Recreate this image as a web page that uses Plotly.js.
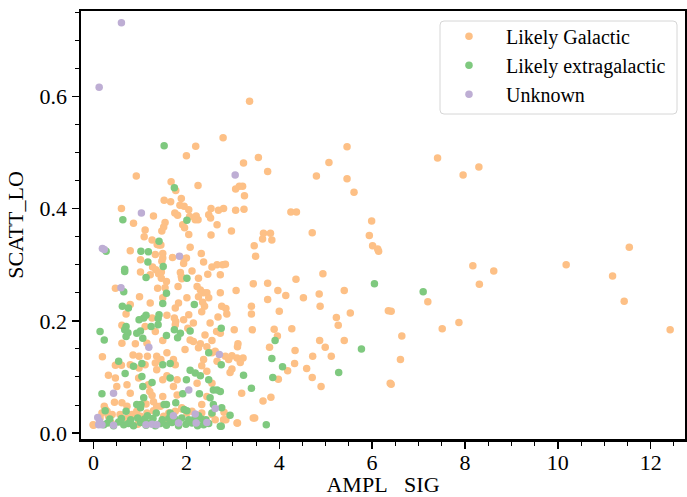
<!DOCTYPE html>
<html>
<head>
<meta charset="utf-8">
<script src="https://cdn.plot.ly/plotly-3.0.1.min.js"></script>
<style>html,body{margin:0;padding:0;background:#fff;}#chart{width:687px;height:497px;}</style>
</head>
<body>
<div id="chart"></div>
<script>
// Likely Galactic
const galX = [3.36,2.79,2.20,2.00,3.55,3.23,5.07,5.46,5.46,4.80,3.75,0.92,1.67,1.77,2.25,3.06,3.14,3.21,3.25,1.52,1.66,1.89,1.86,1.95,2.05,1.75,1.81,1.92,1.96,2.21,2.25,2.19,2.48,2.52,2.53,2.69,2.80,3.06,3.24,2.66,2.97,2.53,2.05,3.46,3.66,3.81,3.64,3.84,4.25,4.37,4.71,0.60,0.86,1.29,1.11,1.09,1.26,1.54,1.51,1.47,1.41,1.45,
2.07,2.08,3.49,0.79,1.01,1.33,1.49,1.49,1.47,1.70,1.95,2.00,1.94,2.32,2.37,2.78,2.84,1.01,1.27,1.34,1.40,1.46,1.22,1.87,1.89,2.12,2.26,2.46,1.37,
1.46,1.57,0.47,0.99,1.22,1.38,1.54,1.49,1.76,1.83,0.79,0.70,1.26,1.58,1.74,1.77,0.61,1.11,1.33,1.49,1.15,0.90,0.61,1.76,
1.90,1.82,2.23,2.30,2.37,2.44,2.48,2.26,2.73,3.07,3.44,3.75,2.01,2.35,2.39,2.33,2.76,2.85,2.87,2.68,3.40,3.40,3.75,1.94,2.05,2.15,2.03,2.51,2.65,2.40,2.73,3.03,3.42,2.08,2.55,3.11,
2.55,2.66,2.73,
6.14,4.36,4.94,3.97,4.14,4.52,4.86,5.40,4.00,4.88,5.53,6.35,5.23,5.27,3.89,4.27,3.96,4.87,5.40,3.79,4.34,4.99,3.10,2.98,3.09,3.22,3.16,2.91,2.84,4.72,5.12,4.33,4.18,4.59,2.98,2.94,3.98,4.71,4.90,3.19,3.82,3.65,3.47,3.10,2.81,2.80,6.39,
2.15,2.30,1.97,2.26,2.44,2.55,2.37,2.33,2.62,2.66,2.44,2.55,2.33,2.44,1.80,2.23,1.72,1.80,1.90,1.49,1.36,
0.19,0.47,0.60,0.47,0.32,0.50,0.45,0.25,0.85,0.79,0.72,0.79,0.98,1.11,0.97,1.18,1.21,1.26,1.13,1.29,1.36,1.45,1.36,1.33,1.58,1.72,1.76,1.49,1.58,0.98,1.16,0.61,0.72,0.40,0.32,0.14,
-0.01,0.18,0.29,0.23,0.57,0.72,0.83,0.93,1.01,1.15,1.29,1.44,1.51,1.62,1.76,1.90,2.01,2.12,2.33,2.55,2.62,2.85,3.09,3.44,0.00,0.38,0.95,1.55,2.05,
5.61,7.41,8.30,7.96,5.99,5.94,6.01,6.12,11.54,8.17,10.18,8.62,11.18,8.31,7.20,11.43,6.41,7.87,7.51,12.42,6.64,6.61,6.41];
const galY = [0.591,0.526,0.511,0.494,0.491,0.481,0.482,0.510,0.453,0.458,0.466,0.458,0.448,0.432,0.441,0.435,0.440,0.440,0.423,0.415,0.412,0.418,0.406,0.404,0.398,0.392,0.388,0.371,0.366,0.387,0.380,0.380,0.389,0.383,0.400,0.397,0.400,0.397,0.399,0.371,0.360,0.353,0.354,0.334,0.356,0.356,0.346,0.344,0.394,0.394,0.357,0.400,0.374,0.387,0.362,0.350,0.344,0.375,0.367,0.360,0.335,0.335,
0.386,0.331,0.315,0.325,0.309,0.318,0.320,0.312,0.306,0.313,0.310,0.312,0.302,0.320,0.305,0.300,0.301,0.287,0.296,0.291,0.284,0.287,0.282,0.286,0.279,0.289,0.276,0.283,0.336,
0.276,0.270,0.258,0.243,0.232,0.258,0.259,0.241,0.223,0.232,0.229,0.212,0.205,0.210,0.205,0.199,0.192,0.190,0.181,0.165,0.160,0.159,0.160,0.193,
0.275,0.261,0.261,0.255,0.250,0.250,0.241,0.243,0.250,0.254,0.266,0.267,0.241,0.233,0.226,0.216,0.226,0.222,0.212,0.207,0.226,0.212,0.238,0.202,0.211,0.196,0.187,0.196,0.181,0.175,0.178,0.184,0.184,0.166,0.165,0.159,
0.296,0.300,0.282,
0.324,0.274,0.284,0.254,0.245,0.241,0.248,0.254,0.217,0.226,0.214,0.218,0.206,0.192,0.185,0.186,0.173,0.165,0.165,0.153,0.147,0.153,0.154,0.138,0.134,0.134,0.126,0.131,0.137,0.137,0.137,0.124,0.111,0.115,0.114,0.108,0.096,0.099,0.083,0.071,0.064,0.057,0.027,0.018,0.037,0.024,0.089,
0.163,0.159,0.149,0.152,0.154,0.143,0.131,0.120,0.146,0.128,0.110,0.089,0.051,0.065,0.095,0.089,0.083,0.068,0.045,0.065,0.048,
0.136,0.121,0.121,0.098,0.103,0.083,0.055,0.043,0.139,0.122,0.086,0.071,0.116,0.122,0.098,0.086,0.074,0.067,0.052,0.056,0.137,0.131,0.113,0.125,0.143,0.131,0.122,0.095,0.102,0.137,0.137,0.054,0.048,0.033,0.030,0.027,
0.015,0.036,0.039,0.048,0.033,0.027,0.033,0.039,0.030,0.036,0.040,0.048,0.030,0.036,0.039,0.043,0.036,0.039,0.036,0.033,0.024,0.024,0.018,0.027,0.014,0.018,0.016,0.020,0.022,
0.429,0.490,0.474,0.460,0.378,0.352,0.334,0.328,0.331,0.298,0.300,0.289,0.280,0.265,0.234,0.235,0.217,0.197,0.186,0.184,0.173,0.131,0.087];

// Likely extragalactic
const extX = [1.52,1.74,2.01,0.63,1.41,1.02,1.18,0.27,0.67,0.67,1.50,1.13,2.01,1.17,0.65,1.57,1.49,0.62,0.75,1.13,1.08,0.98,1.41,1.39,0.70,0.67,0.74,0.70,0.14,0.23,0.93,1.01,1.24,1.39,1.06,1.57,1.74,1.87,2.17,2.08,1.81,2.75,
6.05,3.91,5.77,3.84,4.07,5.28,3.23,3.86,3.40,3.72,2.94,2.76,2.73,7.10,
2.48,2.08,2.19,2.30,2.75,2.48,2.58,2.66,2.73,2.51,2.28,1.92,2.00,1.65,1.77,1.57,
0.54,0.18,0.68,0.86,1.04,1.04,1.06,1.08,1.02,1.01,1.26,1.49,1.65,
0.22,0.30,0.43,0.54,0.65,0.75,0.86,1.01,1.13,1.22,1.33,1.44,1.57,1.69,1.83,1.99,2.12,2.24,2.37,2.48,2.75,
0.35,0.60,0.80,0.95,1.10,1.28,1.48,1.62,1.75,1.90,2.05,2.18,2.32,2.42,
0.25,0.70,0.93,1.16,1.35,1.52,1.65,1.95,2.01,2.26,2.55,2.58];
const extY = [0.512,0.437,0.379,0.380,0.342,0.324,0.323,0.324,0.292,0.288,0.297,0.277,0.276,0.305,0.252,0.249,0.231,0.226,0.223,0.210,0.205,0.202,0.211,0.204,0.190,0.184,0.179,0.172,0.181,0.166,0.178,0.182,0.190,0.193,0.169,0.174,0.184,0.178,0.229,0.182,0.170,0.187,
0.266,0.165,0.150,0.133,0.118,0.108,0.103,0.099,0.080,0.015,0.032,0.045,0.012,0.252,
0.143,0.112,0.107,0.102,0.122,0.095,0.077,0.077,0.074,0.063,0.070,0.070,0.095,0.098,0.054,0.051,
0.128,0.070,0.106,0.119,0.124,0.101,0.083,0.063,0.051,0.045,0.090,0.122,0.124,
0.015,0.018,0.013,0.020,0.015,0.017,0.013,0.019,0.014,0.018,0.013,0.017,0.014,0.019,0.013,0.016,0.018,0.013,0.015,0.017,0.012,
0.025,0.026,0.024,0.027,0.025,0.026,0.024,0.026,0.025,0.027,0.024,0.026,0.025,0.024,
0.040,0.039,0.051,0.031,0.036,0.051,0.036,0.042,0.040,0.031,0.036,0.051];

// Unknown
const unkX = [0.60,0.12,3.05,1.03,0.19,0.23,1.85,0.59,1.19,2.71,0.43,2.05,2.62,1.72,2.19,0.09,0.13,0.18,0.11,0.43,1.13,1.26,1.36,1.83,2.21,2.44];
const unkY = [0.731,0.616,0.460,0.392,0.329,0.327,0.315,0.259,0.153,0.140,0.071,0.077,0.044,0.031,0.034,0.028,0.021,0.015,0.015,0.014,0.015,0.016,0.015,0.018,0.018,0.019];

const seriesNames = ['Likely Galactic', 'Likely extragalactic', 'Unknown'];
const seriesColors = ['#fdc086', '#7fc97f', '#beaed4'];
const xTitle = 'AMPL\u00a0\u00a0\u00a0SIG';
const yTitle = 'SCATT_LO';

const font = 'Liberation Serif';
const sets = [[galX, galY], [extX, extY], [unkX, unkY]];
const traces = sets.map((s, i) => ({
  type: 'scatter', mode: 'markers', x: s[0], y: s[1], name: seriesNames[i],
  marker: {color: seriesColors[i], size: 7.5, line: {width: 0}}
}));

function axisCommon() {
  return {
    showgrid: false, zeroline: false, showline: true, linewidth: 2.5, linecolor: '#000', mirror: true,
    ticks: 'outside', ticklen: 7, tickwidth: 1.5, tickcolor: '#000',
    tickfont: {family: font, size: 22, color: '#000'}
  };
}

// legend frame (rounded rectangle, paper coords of the plot area)
const lx0 = 0.5944, lx1 = 0.9868, ly0 = 0.7593, ly1 = 0.9766, rx = 0.0066, ry = 0.0093;
const framePath = `M ${lx0 + rx} ${ly1} L ${lx1 - rx} ${ly1} Q ${lx1} ${ly1} ${lx1} ${ly1 - ry} L ${lx1} ${ly0 + ry} Q ${lx1} ${ly0} ${lx1 - rx} ${ly0} L ${lx0 + rx} ${ly0} Q ${lx0} ${ly0} ${lx0} ${ly0 + ry} L ${lx0} ${ly1 - ry} Q ${lx0} ${ly1} ${lx0 + rx} ${ly1} Z`;

const layout = {
  width: 687, height: 497,
  margin: {l: 81, r: 2, t: 11, b: 58},
  paper_bgcolor: '#fff', plot_bgcolor: '#fff',
  font: {family: font, color: '#000'},
  xaxis: Object.assign(axisCommon(), {
    range: [-0.271, 12.74], tick0: 0, dtick: 2, ticklabelstandoff: -5, automargin: true,
    minor: {dtick: 0.5, ticks: 'outside', ticklen: 4, tickwidth: 1, tickcolor: '#000', showgrid: false},
    title: {text: xTitle, font: {family: font, size: 22, color: '#000'}, standoff: 4}
  }),
  yaxis: Object.assign(axisCommon(), {
    range: [-0.0105, 0.752], tick0: 0, dtick: 0.2, tickformat: '.1f',
    minor: {dtick: 0.05, ticks: 'outside', ticklen: 4, tickwidth: 1, tickcolor: '#000', showgrid: false},
    title: {text: yTitle, font: {family: font, size: 22, color: '#000'}, standoff: 10}
  }),
  shapes: [{
    type: 'path', xref: 'paper', yref: 'paper', path: framePath, layer: 'above',
    line: {color: '#d6d6d6', width: 1}, fillcolor: 'rgba(255,255,255,0.8)'
  }],
  legend: {
    x: 0.5811, y: 0.9864, xanchor: 'left', yanchor: 'top',
    bgcolor: 'rgba(0,0,0,0)', borderwidth: 0,
    font: {family: font, size: 20, color: '#000'}, itemwidth: 64
  },
  showlegend: true
};

Plotly.newPlot('chart', traces, layout, {displayModeBar: false, staticPlot: true});
</script>
</body>
</html>
